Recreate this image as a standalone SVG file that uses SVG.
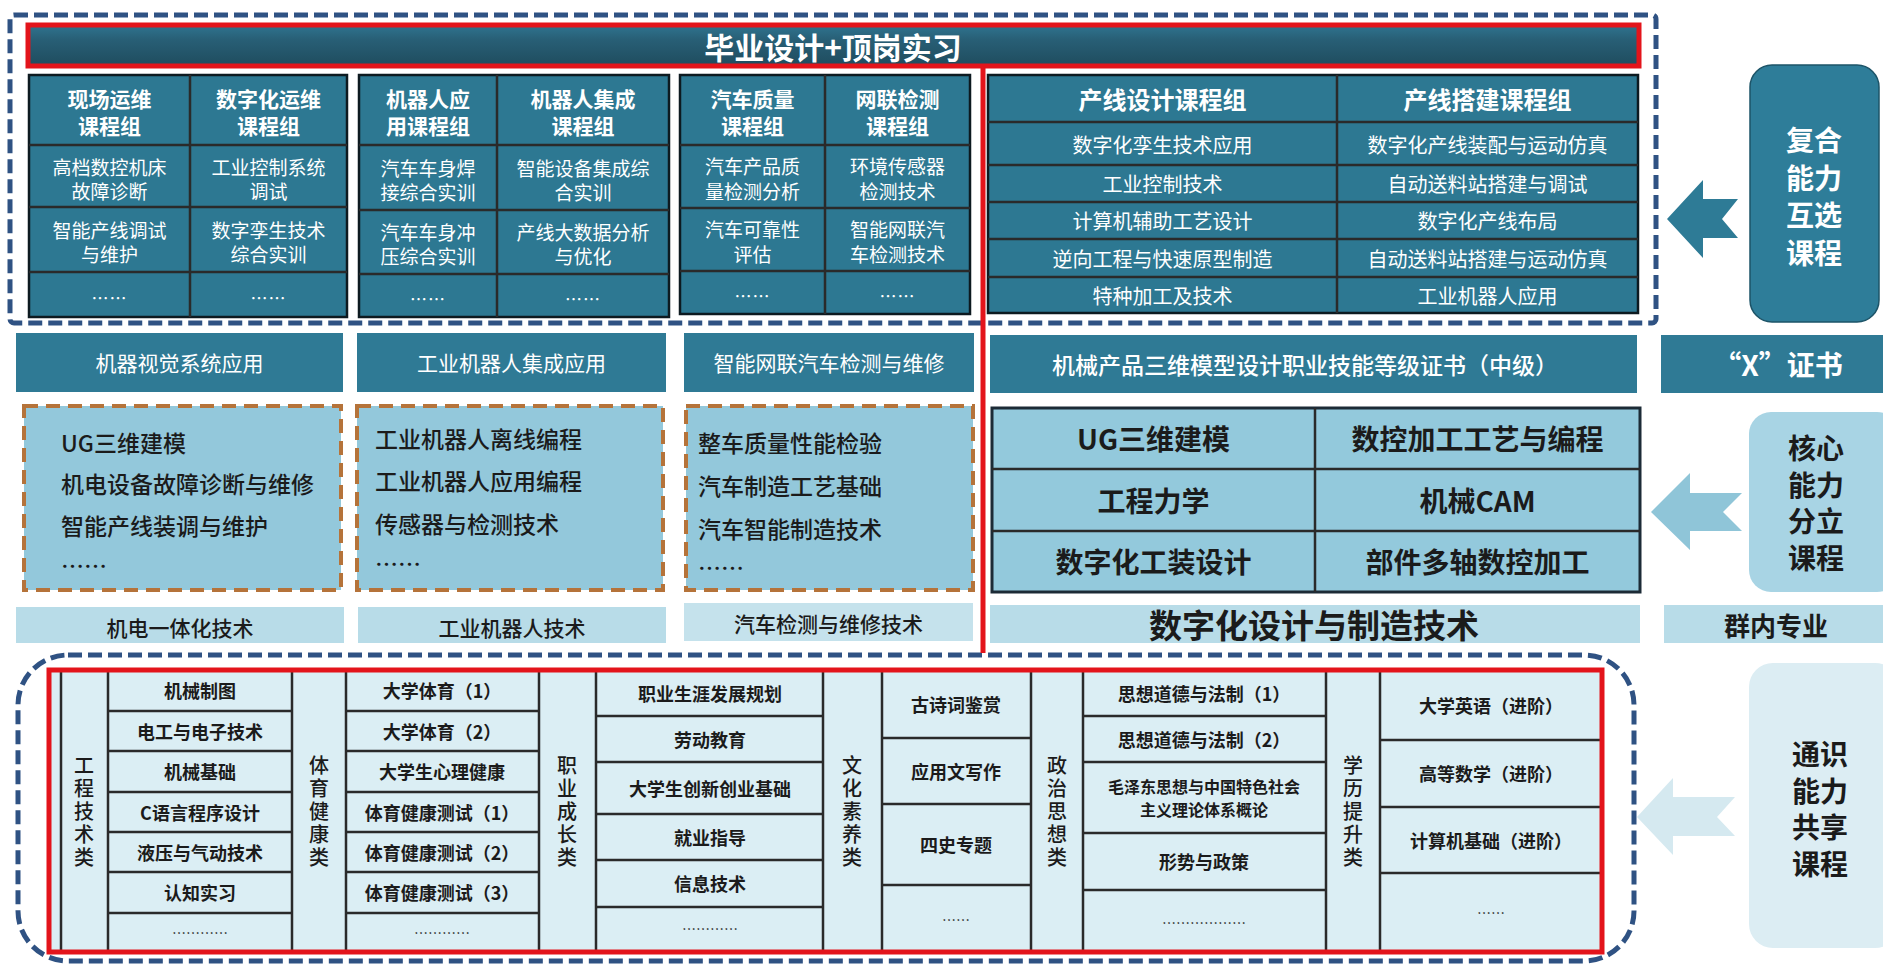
<svg xmlns="http://www.w3.org/2000/svg" width="1883" height="964" viewBox="0 0 1883 964">
<defs>
<linearGradient id="barG" x1="0" y1="0" x2="0" y2="1">
<stop offset="0" stop-color="#2f7490"/>
<stop offset="0.35" stop-color="#285f76"/>
<stop offset="1" stop-color="#1f4c5e"/>
</linearGradient>
<style>
text{font-family:"Noto Sans CJK SC","Noto Sans",sans-serif;text-anchor:middle;dominant-baseline:central}
.w{fill:#fff}
.k{fill:#1b1b1b}
.gh{font-size:21px;font-weight:700}
.gc{font-size:19px}
.rh{font-size:24px;font-weight:700}
.rc{font-size:20px}
.dots{font-size:17px;letter-spacing:1px}
.teal{fill:#2d7892;stroke:#0d1a20;stroke-width:2.5}
.mh{fill:#2f7a95}
.mhT{font-size:21px;fill:#fff}
.orange{fill:#93c8db;stroke:#b5733a;stroke-width:4;stroke-dasharray:14 8}
.ol{font-size:23px;font-weight:500;fill:#1b1b1b;text-anchor:start}
.core{fill:#93c9dc;stroke:#1c2b36;stroke-width:3}
.ct{font-size:28px;font-weight:700;fill:#1b1b1b}
.lab{fill:#b8dce8}
.labT{font-size:21px;font-weight:500;fill:#1b1b1b}
.bl{stroke:#2a2a2a;stroke-width:2.5;fill:none}
.tt{font-size:18px;font-weight:700;fill:#1b1b1b}
.cat{font-size:20px;font-weight:500;fill:#1b1b1b;writing-mode:vertical-rl;letter-spacing:3px}
.bdots{font-size:14px;fill:#1b1b1b;dominant-baseline:auto}
.side{font-weight:700;font-size:28px}
.dashB{fill:none;stroke:#2f5283;stroke-width:5;stroke-dasharray:14 6}
.red{fill:none;stroke:#e3141b;stroke-width:5}
</style>
</defs>
<rect width="1883" height="964" fill="#ffffff"/>

<!-- top region -->
<g id="top-frame">
<rect class="dashB" x="10" y="15" width="1646" height="308" rx="4"/>
</g>
<g id="title-bar">
<rect x="28" y="25" width="1611" height="41" fill="url(#barG)" stroke="#e3141b" stroke-width="5"/>
<text class="w" x="833" y="46" style="font-size:30px;font-weight:700">毕业设计+顶岗实习</text>
</g>

<g id="group-1">
<rect class="teal" x="29" y="75" width="318" height="242"/>
<path class="bl" d="M190 75V317M29 145H347M29 207H347M29 272H347" stroke="#0d1a20"/>
<text class="w gh" x="109.5" y="98">现场运维</text><text class="w gh" x="109.5" y="125">课程组</text>
<text class="w gh" x="268.5" y="98">数字化运维</text><text class="w gh" x="268.5" y="125">课程组</text>
<text class="w gc" x="109.5" y="166">高档数控机床</text><text class="w gc" x="109.5" y="190">故障诊断</text>
<text class="w gc" x="268.5" y="166">工业控制系统</text><text class="w gc" x="268.5" y="190">调试</text>
<text class="w gc" x="109.5" y="229">智能产线调试</text><text class="w gc" x="109.5" y="253">与维护</text>
<text class="w gc" x="268.5" y="229">数字孪生技术</text><text class="w gc" x="268.5" y="253">综合实训</text>
<text class="w dots" x="109.5" y="297">……</text><text class="w dots" x="268.5" y="297">……</text>
</g>

<g id="group-2">
<rect class="teal" x="359" y="75" width="310" height="242"/>
<path class="bl" d="M497 75V317M359 145H669M359 210H669M359 274H669" stroke="#0d1a20"/>
<text class="w gh" x="428" y="98">机器人应</text><text class="w gh" x="428" y="125">用课程组</text>
<text class="w gh" x="583" y="98">机器人集成</text><text class="w gh" x="583" y="125">课程组</text>
<text class="w gc" x="428" y="167">汽车车身焊</text><text class="w gc" x="428" y="191">接综合实训</text>
<text class="w gc" x="583" y="167">智能设备集成综</text><text class="w gc" x="583" y="191">合实训</text>
<text class="w gc" x="428" y="231">汽车车身冲</text><text class="w gc" x="428" y="255">压综合实训</text>
<text class="w gc" x="583" y="231">产线大数据分析</text><text class="w gc" x="583" y="255">与优化</text>
<text class="w dots" x="428" y="298">……</text><text class="w dots" x="583" y="298">……</text>
</g>

<g id="group-3">
<rect class="teal" x="680" y="75" width="290" height="239"/>
<path class="bl" d="M825 75V314M680 145H970M680 208H970M680 271H970" stroke="#0d1a20"/>
<text class="w gh" x="752.5" y="98">汽车质量</text><text class="w gh" x="752.5" y="125">课程组</text>
<text class="w gh" x="897.5" y="98">网联检测</text><text class="w gh" x="897.5" y="125">课程组</text>
<text class="w gc" x="752.5" y="165">汽车产品质</text><text class="w gc" x="752.5" y="190">量检测分析</text>
<text class="w gc" x="897.5" y="165">环境传感器</text><text class="w gc" x="897.5" y="190">检测技术</text>
<text class="w gc" x="752.5" y="228">汽车可靠性</text><text class="w gc" x="752.5" y="253">评估</text>
<text class="w gc" x="897.5" y="228">智能网联汽</text><text class="w gc" x="897.5" y="253">车检测技术</text>
<text class="w dots" x="752.5" y="295">……</text><text class="w dots" x="897.5" y="295">……</text>
</g>

<g id="group-production">
<rect class="teal" x="988" y="75" width="650" height="238"/>
<path class="bl" d="M1337 75V313M988 122H1638M988 165H1638M988 202H1638M988 239H1638M988 277H1638" stroke="#0d1a20"/>
<text class="w rh" x="1162.5" y="98">产线设计课程组</text>
<text class="w rh" x="1487.5" y="98">产线搭建课程组</text>
<text class="w rc" x="1162.5" y="144">数字化孪生技术应用</text>
<text class="w rc" x="1487.5" y="144">数字化产线装配与运动仿真</text>
<text class="w rc" x="1162.5" y="183">工业控制技术</text>
<text class="w rc" x="1487.5" y="183">自动送料站搭建与调试</text>
<text class="w rc" x="1162.5" y="220">计算机辅助工艺设计</text>
<text class="w rc" x="1487.5" y="220">数字化产线布局</text>
<text class="w rc" x="1162.5" y="258">逆向工程与快速原型制造</text>
<text class="w rc" x="1487.5" y="258">自动送料站搭建与运动仿真</text>
<text class="w rc" x="1162.5" y="295">特种加工及技术</text>
<text class="w rc" x="1487.5" y="295">工业机器人应用</text>
</g>

<g id="side-compound">
<rect x="1750" y="65" width="129" height="257" rx="22" fill="#2e7d99" stroke="#1d5468" stroke-width="1.5"/>
<text class="w side"><tspan x="1814" y="139">复合</tspan><tspan x="1814" y="176.5">能力</tspan><tspan x="1814" y="214">互选</tspan><tspan x="1814" y="251.5">课程</tspan></text>
</g>

<!-- middle region -->
<g id="cert-headers">
<rect class="mh" x="16" y="333" width="327" height="59"/>
<text class="mhT" x="179.5" y="362">机器视觉系统应用</text>
<rect class="mh" x="357" y="333" width="309" height="59"/>
<text class="mhT" x="511.5" y="362">工业机器人集成应用</text>
<rect class="mh" x="684" y="333" width="290" height="59"/>
<text class="mhT" x="829" y="362">智能网联汽车检测与维修</text>
<rect class="mh" x="990" y="335" width="647" height="58"/>
<text class="w" x="1305" y="364" style="font-size:23px;font-weight:500">机械产品三维模型设计职业技能等级证书（中级）</text>
<rect class="mh" x="1661" y="335" width="222" height="58"/>
<text class="w" x="1778" y="364" style="font-size:28px;font-weight:700">“X”证书</text>
</g>

<g id="core-mechatronics">
<rect class="orange" x="24" y="406" width="317" height="184"/>
<text class="ol" x="61" y="442">UG三维建模</text>
<text class="ol" x="61" y="483">机电设备故障诊断与维修</text>
<text class="ol" x="61" y="525">智能产线装调与维护</text>
<text class="ol" x="61" y="565">……</text>
</g>
<g id="core-robot">
<rect class="orange" x="357" y="406" width="306" height="184"/>
<text class="ol" x="375" y="438">工业机器人离线编程</text>
<text class="ol" x="375" y="480">工业机器人应用编程</text>
<text class="ol" x="375" y="523">传感器与检测技术</text>
<text class="ol" x="375" y="563">……</text>
</g>
<g id="core-auto">
<rect class="orange" x="686" y="406" width="287" height="184"/>
<text class="ol" x="698" y="442">整车质量性能检验</text>
<text class="ol" x="698" y="485">汽车制造工艺基础</text>
<text class="ol" x="698" y="528">汽车智能制造技术</text>
<text class="ol" x="698" y="567">……</text>
</g>
<g id="core-digital">
<rect class="core" x="992" y="408" width="648" height="184"/>
<path class="bl" d="M1315 408V592M992 469H1640M992 531H1640" stroke="#1c2b36" stroke-width="3"/>
<text class="ct" x="1153.5" y="438">UG三维建模</text>
<text class="ct" x="1477.5" y="438">数控加工工艺与编程</text>
<text class="ct" x="1153.5" y="500">工程力学</text>
<text class="ct" x="1477.5" y="500">机械CAM</text>
<text class="ct" x="1153.5" y="561">数字化工装设计</text>
<text class="ct" x="1477.5" y="561">部件多轴数控加工</text>
</g>
<g id="side-core">
<rect x="1749" y="412" width="150" height="180" rx="22" fill="#a8d4e4"/>
<text class="k side"><tspan x="1816" y="447">核心</tspan><tspan x="1816" y="483.5">能力</tspan><tspan x="1816" y="520">分立</tspan><tspan x="1816" y="556.5">课程</tspan></text>
</g>

<g id="majors">
<rect class="lab" x="16" y="607" width="328" height="36"/>
<text class="labT" x="180" y="627">机电一体化技术</text>
<rect class="lab" x="358" y="607" width="308" height="36"/>
<text class="labT" x="512" y="627">工业机器人技术</text>
<rect x="684" y="603" width="289" height="38" fill="#c5e2ec"/>
<text class="labT" x="828.5" y="623">汽车检测与维修技术</text>
<rect class="lab" x="990" y="605" width="650" height="38"/>
<text class="k" x="1314" y="624" style="font-size:33px;font-weight:700">数字化设计与制造技术</text>
<rect class="lab" x="1664" y="605" width="219" height="38"/>
<text class="k" x="1776" y="624" style="font-size:26px;font-weight:700">群内专业</text>
</g>

<!-- bottom region -->
<g id="general-frame">
<rect class="dashB" x="18" y="655" width="1616" height="306" rx="50"/>
</g>
<g id="general-table">
<rect x="49" y="670" width="1553" height="282" fill="#dbeef4"/>
<path class="bl" d="M61 670V952M108 670V952M292 670V952M346 670V952M539 670V952M596 670V952M823 670V952M882 670V952M1031 670V952M1083 670V952M1326 670V952M1380 670V952"/>
<path class="bl" d="M108 711H292M108 751H292M108 792H292M108 832H292M108 872H292M108 913H292"/>
<path class="bl" d="M346 711H539M346 751H539M346 792H539M346 832H539M346 872H539M346 913H539"/>
<path class="bl" d="M596 716H823M596 762H823M596 814H823M596 860H823M596 907H823"/>
<path class="bl" d="M882 738H1031M882 804H1031M882 885H1031"/>
<path class="bl" d="M1083 716H1326M1083 762H1326M1083 833H1326M1083 890H1326"/>
<path class="bl" d="M1380 740H1602M1380 807H1602M1380 873H1602"/>
<rect class="red" x="49" y="670" width="1553" height="282" stroke-width="6"/>

<g class="cats">
<text class="cat" x="84" y="813">工程技术类</text>
<text class="cat" x="319" y="813">体育健康类</text>
<text class="cat" x="567" y="813">职业成长类</text>
<text class="cat" x="852" y="813">文化素养类</text>
<text class="cat" x="1057" y="813">政治思想类</text>
<text class="cat" x="1353" y="813">学历提升类</text>
</g>

<text class="tt" x="200" y="690">机械制图</text>
<text class="tt" x="200" y="731">电工与电子技术</text>
<text class="tt" x="200" y="771">机械基础</text>
<text class="tt" x="200" y="812">C语言程序设计</text>
<text class="tt" x="200" y="852">液压与气动技术</text>
<text class="tt" x="200" y="892">认知实习</text>
<text class="bdots" x="200" y="938">…………</text>

<text class="tt" x="442" y="690">大学体育（1）</text>
<text class="tt" x="442" y="731">大学体育（2）</text>
<text class="tt" x="442" y="771">大学生心理健康</text>
<text class="tt" x="442" y="812">体育健康测试（1）</text>
<text class="tt" x="442" y="852">体育健康测试（2）</text>
<text class="tt" x="442" y="892">体育健康测试（3）</text>
<text class="bdots" x="442" y="938">…………</text>

<text class="tt" x="710" y="693">职业生涯发展规划</text>
<text class="tt" x="710" y="739">劳动教育</text>
<text class="tt" x="710" y="788">大学生创新创业基础</text>
<text class="tt" x="710" y="837">就业指导</text>
<text class="tt" x="710" y="883">信息技术</text>
<text class="bdots" x="710" y="934">…………</text>

<text class="tt" x="956" y="704">古诗词鉴赏</text>
<text class="tt" x="956" y="771">应用文写作</text>
<text class="tt" x="956" y="844">四史专题</text>
<text class="bdots" x="956" y="925">……</text>

<text class="tt" x="1204" y="693">思想道德与法制（1）</text>
<text class="tt" x="1204" y="739">思想道德与法制（2）</text>
<text class="tt" style="font-size:16px"><tspan x="1204" y="786">毛泽东思想与中国特色社会</tspan><tspan x="1204" y="809">主义理论体系概论</tspan></text>
<text class="tt" x="1204" y="861">形势与政策</text>
<text class="bdots" x="1204" y="928">………………</text>

<text class="tt" x="1491" y="705">大学英语（进阶）</text>
<text class="tt" x="1491" y="773">高等数学（进阶）</text>
<text class="tt" x="1491" y="840">计算机基础（进阶）</text>
<text class="bdots" x="1491" y="918">……</text>
</g>

<g id="side-general">
<rect x="1749" y="663" width="150" height="285" rx="24" fill="#dcedf3"/>
<text class="k side"><tspan x="1820" y="753">通识</tspan><tspan x="1820" y="789.5">能力</tspan><tspan x="1820" y="826">共享</tspan><tspan x="1820" y="862.5">课程</tspan></text>
</g>

<g id="connectors">
<line x1="983" y1="67" x2="983" y2="653" stroke="#e3141b" stroke-width="5"/>
<polygon points="1667,219 1703,180 1703,199 1738,199 1722,219 1738,238 1703,238 1703,258" fill="#2e7b96"/>
<polygon points="1651,512 1690,473 1690,493 1742,493 1723,512 1742,531 1690,531 1690,550" fill="#8fc5d8"/>
<polygon points="1637,817 1673,778 1673,797 1735,797 1717,817 1735,836 1673,836 1673,855" fill="#d5e9f0"/>
</g>
</svg>
